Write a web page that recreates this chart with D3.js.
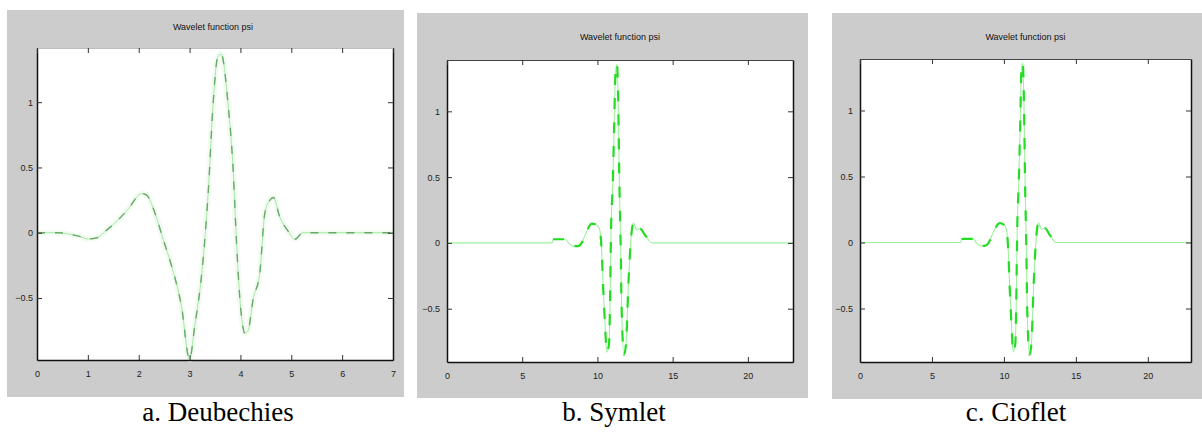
<html>
<head>
  <meta charset="utf-8">
  <style>
    body { margin: 0; background: #fff; }
    svg text { font-family: "Liberation Sans", Arial, sans-serif; }
  </style>
</head>
<body>
  <svg width="1202" height="434"></svg>
  <script src="https://d3js.org/d3.v7.min.js"></script>
  <script>

  // values
  var titleText = "Wavelet function psi";
  var captions = ["a. Deubechies", "b. Symlet", "c. Cioflet"];

  var daubTicks = [0, 1, 2, 3, 4, 5, 6, 7];
  var symTicks = [0, 5, 10, 15, 20];
  var yTicks = [-0.5, 0, 0.5, 1];

  var daubX = [0, 0.4, 0.75, 0.85, 1.0, 1.17, 1.37, 1.6, 1.79, 2.06, 2.15, 2.32, 2.48, 2.65, 2.84, 3.0, 3.1, 3.24, 3.37, 3.46, 3.55, 3.62, 3.76, 3.86, 3.92, 3.99, 4.09, 4.15, 4.25, 4.38, 4.48, 4.58, 4.65, 4.77, 4.94, 5.07, 5.23, 5.5, 7];
  var daubY = [0, 0, -0.02, -0.03, -0.048, -0.04, 0.02, 0.1, 0.18, 0.30, 0.29, 0.15, -0.05, -0.26, -0.56, -0.97, -0.72, -0.31, 0.33, 0.97, 1.34, 1.37, 0.97, 0.46, -0.05, -0.51, -0.77, -0.75, -0.51, -0.31, 0.15, 0.25, 0.27, 0.125, 0.01, -0.05, 0, 0, 0];

  var symX = [0, 6.98, 7.05, 7.85, 8.07, 8.4, 8.73, 8.95, 9.18, 9.62, 9.95, 10.13, 10.28, 10.39, 10.5, 10.62, 10.77, 10.84, 10.9, 11.02, 11.1, 11.21, 11.3, 11.39, 11.46, 11.55, 11.61, 11.77, 11.9, 12.06, 12.21, 12.39, 12.61, 12.83, 13.16, 13.61, 23];
  var symY = [0, 0, 0.028, 0.028, 0, -0.025, -0.025, 0, 0.058, 0.147, 0.135, 0.11, -0.056, -0.36, -0.61, -0.83, -0.77, -0.44, 0.07, 0.45, 0.83, 1.31, 1.36, 1.01, 0.45, -0.056, -0.51, -0.85, -0.77, -0.31, 0, 0.15, 0.1, 0.11, 0.06, 0, 0];

  var coifX = [0, 6.99, 7.06, 7.87, 8.07, 8.45, 8.68, 8.95, 9.18, 9.72, 9.98, 10.15, 10.3, 10.41, 10.52, 10.64, 10.79, 10.86, 10.92, 11.03, 11.12, 11.22, 11.31, 11.4, 11.47, 11.56, 11.62, 11.78, 11.91, 12.07, 12.22, 12.4, 12.62, 12.84, 13.17, 13.62, 23];
  var coifY = [0, 0, 0.028, 0.028, 0, -0.025, -0.025, 0, 0.058, 0.147, 0.135, 0.11, -0.056, -0.36, -0.61, -0.83, -0.77, -0.44, 0.07, 0.45, 0.83, 1.31, 1.36, 1.01, 0.45, -0.056, -0.51, -0.85, -0.77, -0.31, 0, 0.15, 0.1, 0.11, 0.06, 0, 0];

  var panels = [
    {bg: [7, 10, 404, 397], box: [37, 48, 393, 360], xd: [0, 7], yd: [-0.975, 1.415],
     xt: daubTicks, xs: daubX, ys: daubY, titleY: 30, cap: captions[0], capX: 218,
     topColor: "#bdbdbd", labelPad: 4, soft: true},
    {bg: [417, 13, 808, 398], box: [447, 60, 793, 362], xd: [0, 23], yd: [-0.905, 1.39],
     xt: symTicks, xs: symX, ys: symY, titleY: 40, cap: captions[1], capX: 614,
     topColor: "#444", labelPad: 7, soft: false},
    {bg: [832, 13, 1202, 399], box: [860, 59, 1191, 362], xd: [0, 23], yd: [-0.905, 1.39],
     xt: symTicks, xs: coifX, ys: coifY, titleY: 40, cap: captions[2], capX: 1016,
     topColor: "#444", labelPad: 7, soft: false}
  ];

  var svg = d3.select("svg");

  panels.forEach(function(p) {
    var g = svg.append("g");
    var x0 = p.box[0], y0 = p.box[1], x1 = p.box[2], y1 = p.box[3];

    g.append("rect")
      .attr("x", p.bg[0]).attr("y", p.bg[1])
      .attr("width", p.bg[2] - p.bg[0]).attr("height", p.bg[3] - p.bg[1])
      .attr("fill", "#cccccc");
    g.append("rect")
      .attr("x", x0).attr("y", y0)
      .attr("width", x1 - x0).attr("height", y1 - y0)
      .attr("fill", "#fff");

    var X = d3.scaleLinear().domain(p.xd).range([x0, x1]);
    var Y = d3.scaleLinear().domain(p.yd).range([y1, y0]);

    var pts = p.xs.map(function(v, i) { return [v, p.ys[i]]; });
    var line = d3.line()
      .x(function(d) { return X(d[0]); })
      .y(function(d) { return Y(d[1]); })
      .curve(d3.curveMonotoneX);

    if (p.soft) {
      g.append("path").attr("d", line(pts))
        .attr("fill", "none").attr("stroke", "#f3fbf3").attr("stroke-width", 6);
      g.append("path").attr("d", line(pts))
        .attr("fill", "none").attr("stroke", "#a6e8a6").attr("stroke-width", 1);
      g.append("path").attr("d", line(pts))
        .attr("fill", "none").attr("stroke", "#6aa86a").attr("stroke-width", 1.4)
        .attr("stroke-dasharray", "8,10");
    } else {
      g.append("path").attr("d", line(pts))
        .attr("fill", "none").attr("stroke", "#9ef09e").attr("stroke-width", 1.1);
      var mid = pts.filter(function(d) { return d[0] > 7 && d[0] < 14; });
      g.append("path").attr("d", line(mid))
        .attr("fill", "none").attr("stroke", "#22dd22").attr("stroke-width", 2.2)
        .attr("stroke-dasharray", "11,13");
    }

    // axes, ticks inside like matlab
    var bottom = g.append("g").attr("transform", "translate(0," + y1 + ")")
      .call(d3.axisBottom(X).tickValues(p.xt).tickSizeInner(-5).tickSizeOuter(0)
        .tickPadding(11).tickFormat(d3.format("")));
    var left = g.append("g").attr("transform", "translate(" + x0 + ",0)")
      .call(d3.axisLeft(Y).tickValues(yTicks).tickSizeInner(-5).tickSizeOuter(0)
        .tickPadding(p.labelPad).tickFormat(d3.format("")));
    var right = g.append("g").attr("transform", "translate(" + x1 + ",0)")
      .call(d3.axisRight(Y).tickValues(yTicks).tickSizeInner(-5).tickSizeOuter(0).tickFormat(""));
    var top = g.append("g").attr("transform", "translate(0," + y0 + ")")
      .call(d3.axisTop(X).tickValues(p.xt).tickSizeInner(-5).tickSizeOuter(0).tickFormat(""));

    [bottom, left, right, top].forEach(function(a) {
      a.selectAll("text").attr("font-size", 9).attr("fill", "#222");
      a.selectAll("line").attr("stroke", "#333");
    });
    bottom.select(".domain").attr("stroke", "#111").attr("stroke-width", 1.5);
    left.select(".domain").attr("stroke", "#111").attr("stroke-width", 1.5);
    right.select(".domain").attr("stroke", "#111").attr("stroke-width", 1.5);
    top.select(".domain").attr("stroke", p.topColor);

    g.append("text")
      .attr("x", (x0 + x1) / 2 + (p.soft ? -2 : 0)).attr("y", p.titleY)
      .attr("text-anchor", "middle").attr("font-size", 9).attr("fill", "#111")
      .text(titleText);

    g.append("text")
      .attr("x", p.capX).attr("y", 421)
      .attr("text-anchor", "middle")
      .style("font-family", "'Liberation Serif', 'Times New Roman', serif")
      .attr("font-size", 27).attr("fill", "#000")
      .text(p.cap);
  });

  </script>
</body>
</html>
